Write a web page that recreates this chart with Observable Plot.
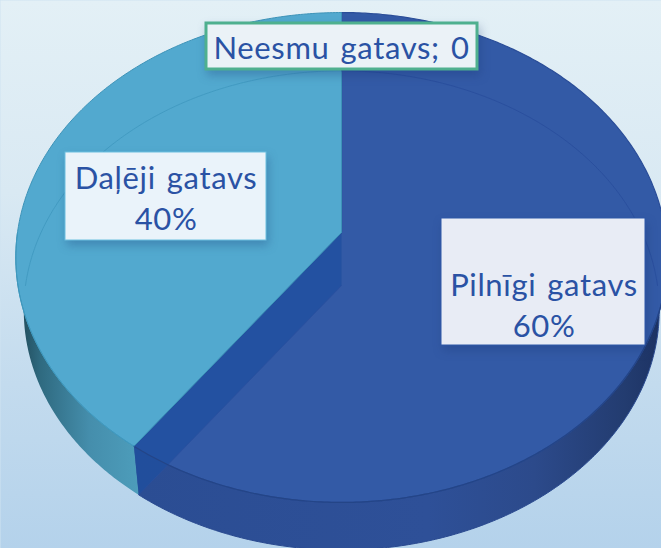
<!DOCTYPE html>
<html>
<head>
<meta charset="utf-8">
<script src="https://cdn.jsdelivr.net/npm/d3@7"></script>
<script src="https://cdn.jsdelivr.net/npm/@observablehq/plot@0.6"></script>
<style>
html,body{margin:0;padding:0;background:#cfe3f1;}
svg{display:block;}
g[aria-label="rect"] rect{filter:drop-shadow(2px 5px 5px rgba(20,50,110,.28));}
g[aria-label="text"] text{letter-spacing:0.65px;word-spacing:2.5px;}
</style>
</head>
<body>
<div id="chart"></div>
<script>
// Data
const categories = ["Pilnīgi gatavs", "Neesmu gatavs", "Daļēji gatavs"];
const shares = [60, 0, 40];
const labelTexts = ["Pilnīgi gatavs\n60%", "Neesmu gatavs; 0", "Daļēji gatavs\n40%"];

// Pie view (perspective tilt of the disc)
const W = 661, H = 548;
const topFace = {x0: 341, y0: 232, rx: 324, k: 242.4, p: -0.102};
const baseFace = {x0: 341, y0: 285, rx: 316, k: 237, p: -0.104};
const project = (f, a) => {
  const u = Math.sin(a), v = -Math.cos(a), d = 1 + f.p * v;
  return {x: f.x0 + f.rx * u / d, y: f.y0 + f.k * v / d};
};
const arc = (f, a0, a1) => {
  const n = Math.max(2, Math.ceil(Math.abs(a1 - a0) / 0.01));
  return d3.range(n + 1).map(i => project(f, a0 + (a1 - a0) * i / n));
};
const total = d3.sum(shares);
const angle = s => s / total * 2 * Math.PI;
const a0 = 0;
const a1 = angle(shares[0]);             // end of "Pilnīgi gatavs"
const a2 = a1 + angle(shares[1]);        // zero-width "Neesmu gatavs"
const a3 = a2 + angle(shares[2]);
const apexTop = {x: topFace.x0, y: topFace.y0};
const apexBase = {x: baseFace.x0, y: baseFace.y0};
const sector = (f, s, e) => [{x: f.x0, y: f.y0}, ...arc(f, s, e), {x: f.x0, y: f.y0}];
const wall = (s, e) => [...arc(topFace, s, e), ...arc(baseFace, e, s)];
const cut = [apexTop, project(topFace, a1), project(baseFace, a1), apexBase];

// Layout of the label boxes
const boxes = [
  {x1: 441, x2: 645, y1: 218, y2: 345, fill: "#e8ecf5", stroke: "#2f58a8", sw: 1, tx: 543.5, ty: 303},
  {x1: 206, x2: 477, y1: 23, y2: 69, fill: "#ebf2f7", stroke: "#4fb08f", sw: 3, tx: 341, ty: 45.5},
  {x1: 65, x2: 266, y1: 152, y2: 240, fill: "#eaf3fa", stroke: "#6cc0e0", sw: 1, tx: 165.5, ty: 196}
];
boxes.forEach((b, i) => { b.text = labelTexts[i]; });

const defs = () => {
  const g = document.createElementNS("http://www.w3.org/2000/svg", "defs");
  g.innerHTML = `
  <linearGradient id="bg" x1="0.1" y1="0" x2="0.1" y2="1">
    <stop offset="0" stop-color="#e3f0f6"/><stop offset="0.35" stop-color="#d9e9f3"/>
    <stop offset="0.7" stop-color="#c3dbee"/><stop offset="1" stop-color="#b4d2eb"/>
  </linearGradient>
  <linearGradient id="wallLight" x1="0" y1="0" x2="1" y2="0">
    <stop offset="0" stop-color="#1f4654"/><stop offset="0.2" stop-color="#2f6a80"/>
    <stop offset="0.6" stop-color="#458eac"/><stop offset="1" stop-color="#4d9dbb"/>
  </linearGradient>
  <linearGradient id="wallDark" x1="0" y1="0" x2="1" y2="0">
    <stop offset="0" stop-color="#2b4d93"/><stop offset="0.55" stop-color="#2e5098"/>
    <stop offset="0.75" stop-color="#2c4a8b"/><stop offset="0.92" stop-color="#233c70"/>
    <stop offset="1" stop-color="#1c3161"/>
  </linearGradient>`;
  return g;
};

const poly = (pts, o) => Plot.line(pts, {x: "x", y: "y", curve: "linear", strokeLinejoin: "round", ...o});
const FONT = "Lato, 'Open Sans', sans-serif";

const chart = Plot.plot({
  width: W, height: H,
  margin: 0,
  style: {background: "transparent"},
  x: {domain: [0, W], range: [0, W], axis: null},
  y: {domain: [0, H], range: [0, H], axis: null},
  marks: [
    defs,
    Plot.frame({fill: "url(#bg)", stroke: "none"}),
    // side walls
    poly(wall(a0 + Math.PI / 2, a1), {fill: "url(#wallDark)", stroke: "#2a4a90", strokeWidth: 1}),
    poly(wall(a2, a3 - Math.PI / 2), {fill: "url(#wallLight)", stroke: "none"}),
    // top face of the large slice, then the cut face seen through it
    poly(sector(topFace, a0, a1), {fill: "#335aa6", stroke: "#2a4d98", strokeWidth: 1.2}),
    poly(cut, {fill: "#1f4f9f", fillOpacity: 0.75, stroke: "none"}),
    // edge of the wall at the cut
    poly([project(baseFace, a1), apexBase], {stroke: "#2a4f9e", strokeWidth: 0.8}),
    // top face of the smaller slice
    poly(sector(topFace, a2, a3), {fill: "#52a9cf", stroke: "#3d93b8", strokeWidth: 1}),
    // inner rim of the disc
    poly(arc(baseFace, a3 - Math.PI / 2, a3), {stroke: "#429bc2", strokeWidth: 1}),
    poly(arc(baseFace, a0, a0 + Math.PI / 2), {stroke: "#2a4f9e", strokeWidth: 1}),
    // front rim
    poly(arc(topFace, a0 + Math.PI / 2, a1), {stroke: "#244587", strokeWidth: 1.2}),
    poly(arc(topFace, a2, a3 - Math.PI / 2), {stroke: "#3f9ac0", strokeWidth: 1}),
    // data labels
    Plot.rect(boxes, {x1: "x1", x2: "x2", y1: "y1", y2: "y2", fill: "fill", stroke: "stroke", strokeWidth: "sw"}),
    Plot.text(boxes, {x: "tx", y: "ty", text: "text", fill: "#2a52a4", fontSize: 31, fontFamily: FONT, lineHeight: 1.3, lineAnchor: "middle", textAnchor: "middle"})
  ]
});
document.getElementById("chart").append(chart);
</script>
</body>
</html>
